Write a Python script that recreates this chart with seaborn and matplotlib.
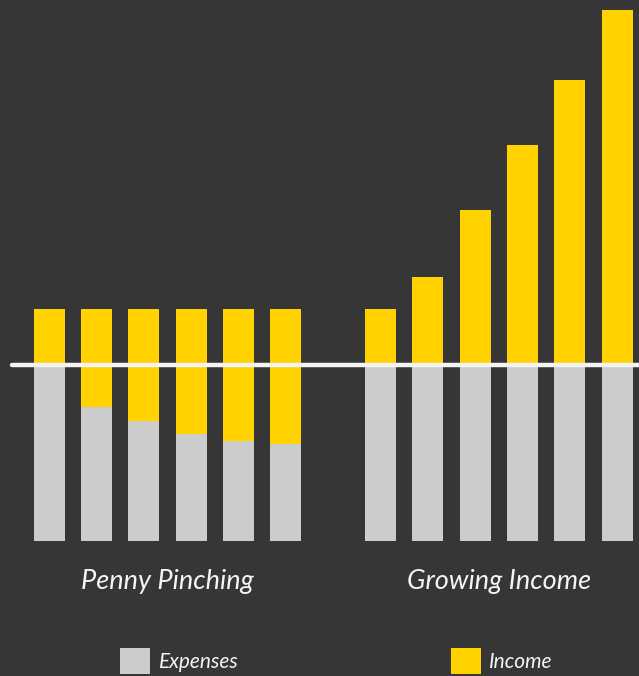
import pandas as pd
import matplotlib.pyplot as plt
import seaborn as sns
from matplotlib.patches import Patch

# --- Data ---
groups = ["Penny Pinching", "Growing Income"]
periods = ["1", "2", "3", "4", "5", "6"]

penny_expenses = [100, 76, 68, 61, 57, 55]
penny_income = [32, 56, 64, 71, 75, 77]
growth_expenses = [100, 100, 100, 100, 100, 100]
growth_income = [32, 50, 88, 125, 162, 202]

# --- Colours ---
bg_color = "#363636"
expense_color = "#cccccc"
income_color = "#ffd200"
chalk = "#f4f4f4"

# build long table, one slot per bar plus an empty spacer slot between the groups
rows = []
for g, exp, inc in zip(groups, [penny_expenses, growth_expenses], [penny_income, growth_income]):
    for p, e, i in zip(periods, exp, inc):
        rows.append({"group": g, "slot": g[0] + p, "expenses": e, "total": e + i})
df = pd.DataFrame(rows)
slot_order = [s for s in df.slot if s.startswith("P")] + ["gap"] + [s for s in df.slot if s.startswith("G")]

sns.set_theme(style="dark")
plt.rcParams["font.family"] = ["Lato", "DejaVu Sans"]

fig = plt.figure(figsize=(6.39, 6.76), dpi=100, facecolor=bg_color)
ax = fig.add_axes([0, 0, 1, 1])
ax.set_facecolor(bg_color)

# stacked bars: total (income on top) first, then expenses over it
bar_kw = dict(order=slot_order, width=0.655, saturation=1, ax=ax, errorbar=None, linewidth=0)
sns.barplot(data=df, x="slot", y="total", color=income_color, **bar_kw)
sns.barplot(data=df, x="slot", y="expenses", color=expense_color, **bar_kw)

# scale so the bars sit where they do in the picture
ax.set_xlim(-1.04, 12.46)
ax.set_ylim(-76.7, 307.4)

# chalk line at the break-even level
ax.plot([-0.78, 12.6], [100, 100], color=chalk, lw=3.2, solid_capstyle="round", zorder=5)

# group labels
for k, g in enumerate(groups):
    ax.text(2.5 + 7 * k, -23, g, color=chalk, fontsize=19.5, style="italic",
            ha="center", va="center")

ax.set_axis_off()

handles = [Patch(facecolor=expense_color, edgecolor="none", label="Expenses"),
           Patch(facecolor=income_color, edgecolor="none", label="Income")]
leg = fig.legend(handles=handles, loc="center left", bbox_to_anchor=(0.188, 0.022),
                 ncol=2, frameon=False, fontsize=15, handlelength=1.45, handleheight=1.5,
                 handletextpad=0.4, columnspacing=10.2, borderpad=0, borderaxespad=0)
for t in leg.get_texts():
    t.set_color(chalk)
    t.set_style("italic")

fig.savefig("out.png", dpi=100, facecolor=bg_color)
